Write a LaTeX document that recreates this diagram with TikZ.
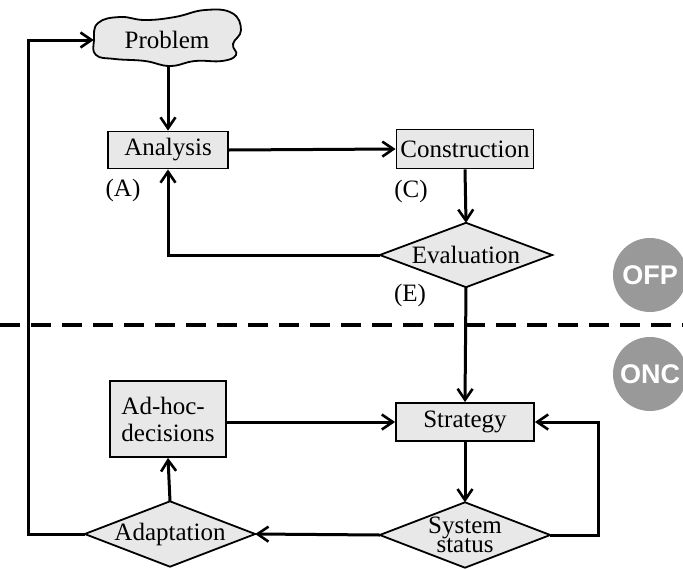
\documentclass[tikz,border=0pt]{standalone}
\usepackage{fontspec}
\setmainfont{Liberation Serif}
\newfontfamily\badgefont{Liberation Sans}
\usetikzlibrary{arrows.meta,backgrounds}
\begin{document}
\begin{tikzpicture}[x=1pt,y=-1pt,
  every node/.style={font=\fontsize{25}{27}\selectfont},
  box/.style={draw, line width=1.8pt, fill=gray!18, inner sep=0pt},
  decision/.style={inner sep=0pt},
  rhomb/.style={draw, line width=1.8pt, fill=gray!18, line join=miter},
  flow/.style={line width=3pt, -{Straight Barb[length=11pt,width=15pt,line width=2.6pt]}},
  tag/.style={inner sep=0pt},
  badge/.style={circle, fill=black!40, text=white, minimum size=74pt, inner sep=0pt,
    font=\badgefont\bfseries\fontsize{27}{28}\selectfont}]
\clip (0,0) rectangle (683,568);

% upper part
\node[tag, minimum width=146pt, minimum height=50pt] (problem) at (167,40) {Problem};
\node[box, minimum width=120pt, minimum height=37pt] (analysis) at (168,150) {Analysis};
\node[box, minimum width=137pt, minimum height=39pt] (construction) at (465,149) {Construction};
\node[decision, minimum width=172pt, minimum height=64pt] (evaluation) at (466,255) {Evaluation};
\node[tag] (labA) at (123,190) {(A)};
\node[tag] (labC) at (411,191) {(C)};
\node[tag] (labE) at (410,295) {(E)};

% lower part
\node[box, minimum width=116pt, minimum height=76pt, align=left] (adhoc) at (168,419) {Ad-hoc-\\decisions};
\node[box, minimum width=138pt, minimum height=38pt] (strategy) at (465,422) {Strategy};
\node[decision, minimum width=170pt, minimum height=65pt, align=center,
  font=\fontsize{25}{19.5}\selectfont] (status) at (465,535) {System\\status};
\node[decision, minimum width=170pt, minimum height=65pt] (adaptation) at (170,534) {Adaptation};

% outlines drawn behind the texts: cloud and diamonds
\begin{scope}[on background layer]
\draw[line width=1.8pt, fill=gray!18] plot[smooth cycle, tension=0.75] coordinates {
  (98,23) (120,17) (145,20) (175,17) (205,10) (232,13) (241,30)
  (233,44) (236,55) (222,61) (195,61) (170,66) (145,61) (115,59)
  (96,55) (94,40)};
\foreach \d in {evaluation,status,adaptation}
  \draw[rhomb] (\d.north) -- (\d.east) -- (\d.south) -- (\d.west) -- cycle;
\end{scope}

% phase badges and separator
\node[badge] (ofp) at (650,275) {OFP};
\node[badge] (onc) at (650,374) {ONC};
\coordinate (sepL) at (0,325);
\coordinate (sepR) at (683,325);
\draw[line width=3.5pt, dash pattern=on 20pt off 11pt] (sepL) -- (sepR);

% connectors
\draw[flow] (problem.south -| analysis.north) -- (analysis.north);
\draw[flow] (analysis.east) -- (construction.west);
\draw[flow] (construction.south) -- (evaluation.north);
\draw[flow] (evaluation.west) -| (analysis.south);
\draw[flow] (evaluation.south) -- (strategy.north);
\draw[flow] (adhoc.east |- strategy.west) -- (strategy.west);
\draw[flow] (strategy.south) -- (status.north);
\coordinate (loopR) at (598,535);
\draw[flow] (status.east) -- (loopR) |- (strategy.east);
\draw[flow] (status.west) -- (adaptation.east);
\draw[flow] (adaptation.north) -- (adhoc.south);
\coordinate (loopL) at (28,534);
\draw[flow] (adaptation.west) -- (loopL) |- (problem.west);
\end{tikzpicture}
\end{document}
